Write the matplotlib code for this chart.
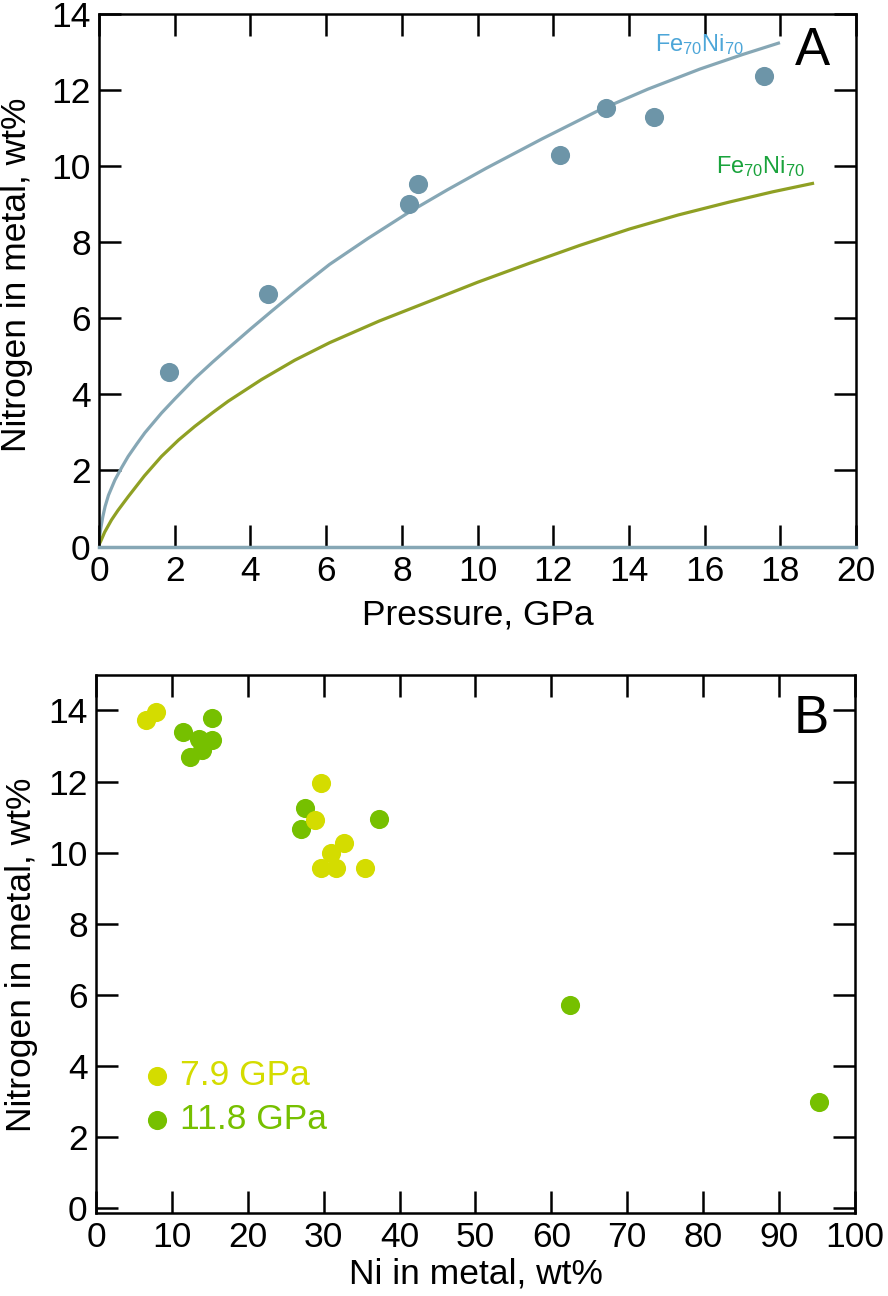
import matplotlib
matplotlib.use('Agg')
import matplotlib.pyplot as plt

plt.rcParams['font.family'] = ['Liberation Sans', 'DejaVu Sans']
plt.rcParams['mathtext.fontset'] = 'custom'
plt.rcParams['mathtext.rm'] = 'Liberation Sans'
plt.rcParams['mathtext.it'] = 'Liberation Sans'

# Panel A: measured points
pressure = [1.85, 4.46, 8.18, 8.44, 12.19, 13.4, 14.67, 17.57]
nitrogen_a = [4.6, 6.63, 9.02, 9.54, 10.3, 11.54, 11.3, 12.37]

# Panel A: model curves
curve1_p = [0, 0.02, 0.05, 0.1, 0.16, 0.25, 0.42, 0.6, 0.77, 1.0, 1.21, 1.65, 2.0,
            2.53, 3.0, 3.41, 4.0, 4.56, 5.3, 6.09, 7.1, 8.2, 9.2, 10.23, 11.7,
            13.22, 14.5, 15.88, 17.0, 17.95]
curve1_n = [0, 0.3, 0.5, 0.78, 1.05, 1.35, 1.75, 2.08, 2.37, 2.7, 2.99, 3.51, 3.88,
            4.42, 4.85, 5.21, 5.72, 6.19, 6.8, 7.42, 8.1, 8.8, 9.38, 9.95, 10.72,
            11.48, 12.03, 12.56, 12.94, 13.24]
curve2_p = [0, 0.05, 0.15, 0.33, 0.5, 0.77, 1.2, 1.65, 2.1, 2.53, 3.0, 3.41, 4.29,
            5.17, 6.09, 7.4, 8.73, 10.0, 11.37, 12.7, 14.01, 15.3, 16.65, 17.8, 18.85]
curve2_n = [0.05, 0.15, 0.38, 0.7, 0.95, 1.31, 1.86, 2.37, 2.8, 3.16, 3.52, 3.82, 4.39,
            4.9, 5.36, 5.93, 6.45, 6.95, 7.45, 7.92, 8.35, 8.72, 9.06, 9.33, 9.55]

# Panel B
ni_79 = [6.6, 7.9, 29.6, 28.8, 31.0, 32.7, 29.6, 31.6, 35.4]
n_79 = [13.72, 13.97, 11.97, 10.93, 9.99, 10.26, 9.56, 9.56, 9.56]
ni_118 = [11.5, 12.4, 13.6, 14.0, 15.3, 15.3, 27.6, 27.0, 37.3, 62.45, 95.3]
n_118 = [13.4, 12.7, 13.2, 12.9, 13.8, 13.16, 11.25, 10.67, 10.94, 5.72, 2.97]

blue_pt = '#6d95a8'
blue_ln = '#86a7b5'
olive = '#8fa024'
yellow = '#d4dc00'
green = '#76c000'

fs = 25.5

fig = plt.figure(figsize=(8.88, 12.96), dpi=100)
axA = fig.add_axes([0.1115, 0.5783, 0.8525, 0.4107])
axB = fig.add_axes([0.1081, 0.064, 0.8547, 0.4152])

for ax in (axA, axB):
    ax.tick_params(direction='in', length=16, width=1.8, labelsize=fs,
                   top=True, right=True, pad=6)
    for s in ax.spines.values():
        s.set_linewidth(1.8)

# ---- A
axA.plot(curve1_p, curve1_n, color=blue_ln, lw=2.3, zorder=2)
axA.plot(curve2_p, curve2_n, color=olive, lw=2.3, zorder=2)
axA.scatter(pressure, nitrogen_a, s=190, color=blue_pt, zorder=3, linewidths=0)
axA.set_xlim(0, 20)
axA.set_ylim(0, 14)
axA.set_xticks(range(0, 21, 2))
axA.set_yticks(range(0, 15, 2))
axA.spines['bottom'].set_color(blue_ln)
axA.spines['bottom'].set_linewidth(2.5)
axA.set_xlabel('Pressure, GPa', fontsize=fs, labelpad=8)
axA.set_ylabel('Nitrogen in metal, wt%', fontsize=fs)
axA.yaxis.set_label_coords(-0.087, 0.51)
axA.text(14.7, 13.2, r'Fe$_{70}$Ni$_{70}$', color='#4da6d8', fontsize=17, va='center')
axA.text(16.3, 9.99, r'Fe$_{70}$Ni$_{70}$', color='#1aa33c', fontsize=17, va='center')
axA.text(0.965, 0.978, 'A', transform=axA.transAxes, fontsize=38, ha='right', va='top')

# ---- B
axB.scatter(ni_79, n_79, s=190, color=yellow, zorder=3, linewidths=0, label='7.9 GPa')
axB.scatter(ni_118, n_118, s=190, color=green, zorder=2, linewidths=0, label='11.8 GPa')
axB.set_xlim(0, 100)
axB.set_ylim(-0.15, 15)
axB.set_xticks(range(0, 101, 10))
axB.set_yticks(range(0, 15, 2))
axB.set_xlabel('Ni in metal, wt%', fontsize=fs, labelpad=2)
axB.set_ylabel('Nitrogen in metal, wt%', fontsize=fs)
axB.yaxis.set_label_coords(-0.076, 0.48)
axB.text(0.965, 0.965, 'B', transform=axB.transAxes, fontsize=38, ha='right', va='top')
axB.legend(loc='lower left', bbox_to_anchor=(0.066, 0.143), frameon=False,
           fontsize=fs, labelcolor='markerfacecolor', handlelength=0.6,
           handletextpad=0.35, labelspacing=0.3, borderpad=0, borderaxespad=0,
           scatterpoints=1)

fig.savefig('out.png', dpi=100)
